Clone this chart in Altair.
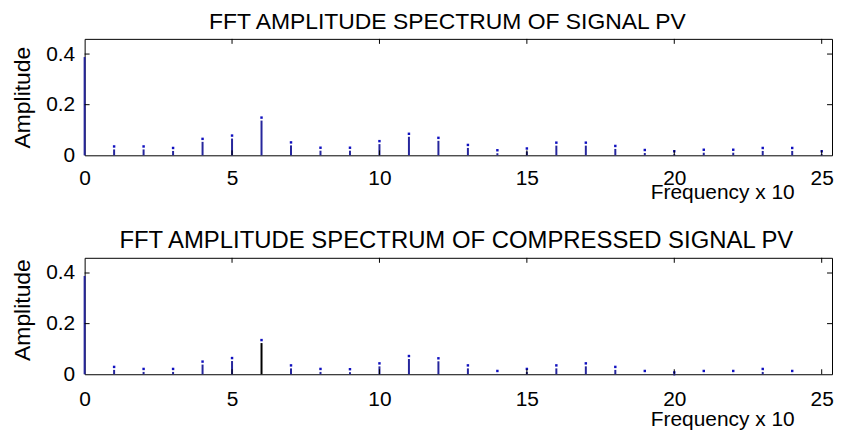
import altair as alt
import pandas as pd

# ---- data ----
freq_top = list(range(26))
amp_top = [0.400, 0.035, 0.035, 0.029, 0.065, 0.078, 0.149, 0.051, 0.030, 0.030,
           0.056, 0.085, 0.069, 0.041, 0.020, 0.027, 0.050, 0.050, 0.037, 0.021,
           0.016, 0.022, 0.022, 0.029, 0.029, 0.016]
freq_bot = list(range(25))
amp_bot = [0.400, 0.029, 0.021, 0.021, 0.050, 0.064, 0.135, 0.035, 0.021, 0.020,
           0.043, 0.072, 0.063, 0.035, 0.013, 0.021, 0.035, 0.043, 0.029, 0.013,
           0.007, 0.013, 0.013, 0.021, 0.013]
x_ticks = [0, 5, 10, 15, 20, 25]
y_ticks = [0, 0.2, 0.4]
title_top = "FFT AMPLITUDE SPECTRUM  OF SIGNAL PV"
title_bot = "FFT AMPLITUDE SPECTRUM OF COMPRESSED SIGNAL PV"
x_title = "Frequency x 10"
y_title = "Amplitude"

# ---- styling ----
W, H = 751, 117
FONT = "Liberation Sans"
BLUE = "#26269c"
XDOM = [0, 25.35]
YDOM = [0, 0.46]


def panel(freqs, amps, title, title_size, title_dx, black_freq, xt_y, lab_pad, yt_y):
    df = pd.DataFrame({"freq": freqs, "amp": amps})
    xs = alt.Scale(domain=XDOM, nice=False, zero=False)
    ys = alt.Scale(domain=YDOM, nice=False, zero=False)
    xax = alt.Axis(values=x_ticks, format="d", ticks=False, domain=False, grid=False,
                   labelFont=FONT, labelFontSize=21, labelColor="black", labelPadding=lab_pad,
                   labelFlush=False, labelOverlap=False,
                   title=x_title, titleFont=FONT, titleFontSize=21, titleFontWeight="normal",
                   titleColor="black", titleX=713, titleY=xt_y, titleAlign="right",
                   titleBaseline="alphabetic", titleAnchor="end")
    yax = alt.Axis(values=y_ticks, labelExpr="datum.value == 0 ? '0' : format(datum.value, '.1f')",
                   ticks=False, domain=False, grid=False,
                   labelFont=FONT, labelFontSize=21, labelColor="black", labelPadding=10,
                   labelFlush=False, labelOverlap=False,
                   title=y_title, titleFont=FONT, titleFontSize=23, titleFontWeight="normal",
                   titleColor="black", titleX=-62, titleY=yt_y, titleAngle=270,
                   titleAlign="center", titleBaseline="middle")
    base = alt.Chart(df)
    if black_freq is None:
        col = alt.value(BLUE)
    else:
        col = alt.condition(f"datum.freq == {black_freq}", alt.value("black"), alt.value(BLUE))
    stems = base.mark_rule(strokeWidth=2, yOffset=3).encode(
        x=alt.X("freq:Q", scale=xs, axis=xax),
        y=alt.Y("amp:Q", scale=ys, axis=yax),
        y2=alt.datum(0),
        color=col,
    )
    dots = base.transform_filter("datum.freq > 0").mark_square(size=6, color="#1010c0", opacity=1).encode(
        x=alt.X("freq:Q", scale=xs),
        y=alt.Y("amp:Q", scale=ys),
    )
    ydf = pd.DataFrame({"ytick": y_ticks[1:]})
    xdf = pd.DataFrame({"xtick": x_ticks[1:]})
    lt = alt.Chart(ydf).mark_rule(color="black", strokeWidth=1).encode(
        y=alt.Y("ytick:Q", scale=ys), x=alt.value(0), x2=alt.value(5))
    rt = alt.Chart(ydf).mark_rule(color="black", strokeWidth=1).encode(
        y=alt.Y("ytick:Q", scale=ys), x=alt.value(W), x2=alt.value(W - 5))
    tt = alt.Chart(xdf).mark_rule(color="black", strokeWidth=1).encode(
        x=alt.X("xtick:Q", scale=xs), y=alt.value(0), y2=alt.value(5))
    bt = alt.Chart(xdf).mark_rule(color="black", strokeWidth=1).encode(
        x=alt.X("xtick:Q", scale=xs), y=alt.value(H), y2=alt.value(H - 5))
    return alt.layer(stems, dots, lt, rt, tt, bt).properties(
        width=W, height=H,
        title=alt.TitleParams(title, font=FONT, fontSize=title_size, fontWeight="normal",
                              color="black", anchor="middle", dx=title_dx, offset=4),
    )


top = panel(freq_top, amp_top, title_top, 23, -11, None, 43, 12, 58.5)
bot = panel(freq_bot, amp_bot, title_bot, 24, -2, 6, 51, 14, 52)

chart = alt.vconcat(top, bot, spacing=26).properties(
    padding={"left": 3, "top": 2, "right": 0, "bottom": 0},
    background="white",
).configure_view(stroke="black", strokeWidth=1)

chart.save("out.html", embed_options={"renderer": "svg", "actions": False})
